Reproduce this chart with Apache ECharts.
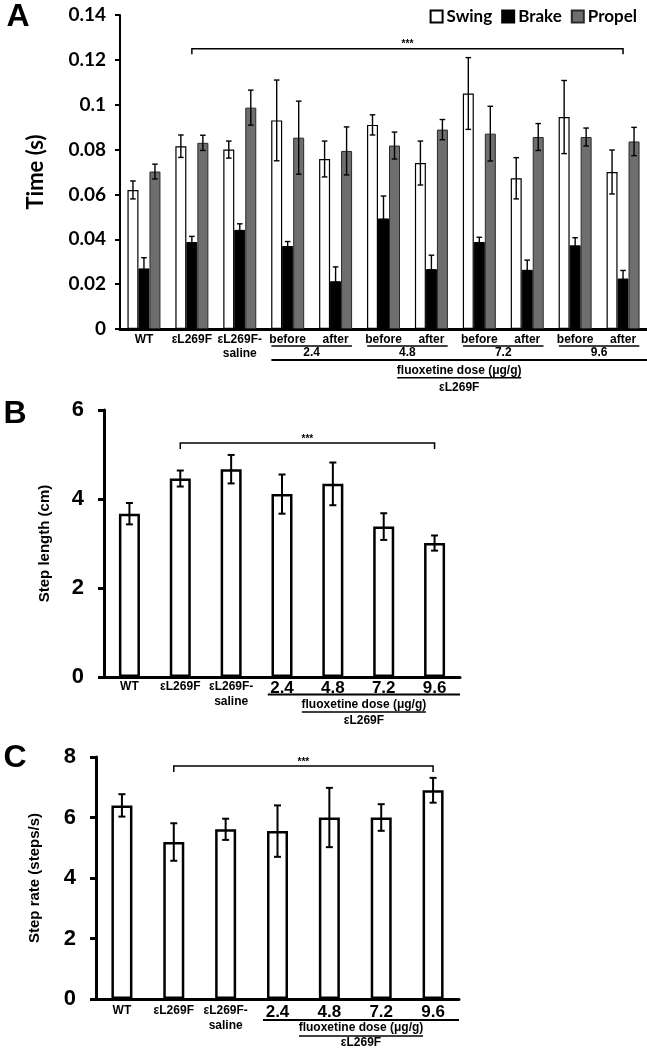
<!DOCTYPE html>
<html>
<head>
<meta charset="utf-8">
<script src="https://cdn.jsdelivr.net/npm/echarts@6/dist/echarts.min.js"></script>
<style>html,body{margin:0;padding:0;background:#fff;}#c{width:647px;height:1050px;}</style>
</head>
<body>
<div id="c"></div>
<script>
// ---------- DATA ----------
const catsA = ['WT','εL269F','εL269F-\nsaline','before','after','before','after','before','after','before','after'];
const doseLabels = ['2.4','4.8','7.2','9.6'];
const seriesNamesA = ['Swing','Brake','Propel'];
const swing     = [0.062, 0.0815, 0.080, 0.093, 0.0758, 0.091, 0.074, 0.105, 0.0672, 0.0945, 0.070];
const swingErr  = [0.004, 0.005, 0.0038, 0.018, 0.008, 0.0045, 0.0098, 0.016, 0.0092, 0.0163, 0.0098];
const brake     = [0.027, 0.0388, 0.0442, 0.037, 0.0213, 0.0493, 0.0267, 0.0388, 0.0264, 0.0373, 0.0225];
const brakeErr  = [0.0048, 0.0025, 0.0027, 0.002, 0.0064, 0.010, 0.0062, 0.0021, 0.0043, 0.0034, 0.0036];
const propel    = [0.0702, 0.083, 0.0987, 0.0853, 0.0794, 0.0818, 0.0889, 0.0871, 0.0856, 0.0856, 0.0836];
const propelErr = [0.0033, 0.0034, 0.0078, 0.0163, 0.0107, 0.006, 0.0045, 0.0122, 0.006, 0.004, 0.0063];

const catsBC = ['WT','εL269F','εL269F-\nsaline','2.4','4.8','7.2','9.6'];
const stepLength    = [3.67, 4.46, 4.67, 4.11, 4.34, 3.38, 3.01];
const stepLengthErr = [0.24, 0.18, 0.32, 0.44, 0.48, 0.30, 0.17];
const stepRate      = [6.40, 5.19, 5.61, 5.55, 6.00, 6.00, 6.90];
const stepRateErr   = [0.37, 0.62, 0.35, 0.85, 0.98, 0.44, 0.41];

const yTicksA = {min: 0, max: 0.14, interval: 0.02};
const yTicksB = {min: 0, max: 6, interval: 2};
const yTicksC = {min: 0, max: 8, interval: 2};

// significance brackets: [from category, to category, y value]
const bracketA = [[1, 10, 0.125]];
const bracketB = [[1, 6, 5.26]];
const bracketC = [[1, 6, 7.70]];

// ---------- STYLE HELPERS ----------
const ARIAL = '"Liberation Sans", Arial, sans-serif';
const LATO = 'Lato, "Open Sans", sans-serif';
const F12 = 'bold 12px ' + ARIAL;

function line(x1, y1, x2, y2, w) {
  return {type: 'line', shape: {x1, y1, x2, y2}, style: {stroke: '#000', lineWidth: w}};
}
function txt(t, x, y, font) {
  return {type: 'text', style: {text: t, x, y, align: 'center', verticalAlign: 'middle', font: font || F12, fill: '#000'}};
}

function errRender(offset, capHalf, lw) {
  return function (params, api) {
    const cat = api.value(0), v = api.value(1), e = api.value(2);
    const top = api.coord([cat, v + e]);
    const bot = api.coord([cat, v - e]);
    const x = top[0] + offset;
    return {type: 'group', children: [
      line(x, top[1], x, bot[1], lw),
      line(x - capHalf, top[1], x + capHalf, top[1], lw),
      line(x - capHalf, bot[1], x + capHalf, bot[1], lw)
    ]};
  };
}

function bracketRender(leg) {
  return function (params, api) {
    const p1 = api.coord([api.value(0), api.value(2)]);
    const p2 = api.coord([api.value(1), api.value(2)]);
    return {type: 'group', children: [
      {type: 'polyline', shape: {points: [[p1[0], p1[1] + leg], [p1[0], p1[1]], [p2[0], p2[1]], [p2[0], p2[1] + leg]]},
       style: {stroke: '#000', lineWidth: 1.5, fill: 'none'}},
      txt('***', (p1[0] + p2[0]) / 2, p1[1] - 4, 'bold 10px ' + ARIAL)
    ]};
  };
}

function annotA(params, api) {
  const y0 = api.coord([0, 0])[1];
  const band = api.size([1, 0])[0];
  const ch = [];
  for (let i = 0; i < doseLabels.length; i++) {
    const xa = api.coord([3 + 2 * i, 0])[0] - band * 0.34;
    const xb = api.coord([4 + 2 * i, 0])[0] + band * 0.34;
    ch.push(line(xa, y0 + 17, xb, y0 + 17, 1.5));
    ch.push(txt(doseLabels[i], (xa + xb) / 2, y0 + 24));
  }
  const xl = api.coord([3, 0])[0] - band * 0.34;
  const xr = api.coord([catsA.length - 1, 0])[0] + band * 0.5;
  ch.push(line(xl, y0 + 31, xr, y0 + 31, 2));
  const cx = (xl + xr) / 2;
  ch.push(txt('fluoxetine dose (μg/g)', cx, y0 + 41.5));
  ch.push(line(cx - 62, y0 + 48.7, cx + 62, y0 + 48.7, 1.5));
  ch.push(txt('εL269F', cx, y0 + 58.5));
  return {type: 'group', children: ch};
}

function annotBC(d) {
  return function (params, api) {
    const y0 = api.coord([0, 0])[1];
    const band = api.size([1, 0])[0];
    const xl = api.coord([3, 0])[0] - band * 0.28;
    const xr = api.coord([catsBC.length - 1, 0])[0] + band * 0.5;
    const cx = (xl + xr) / 2;
    return {type: 'group', children: [
      line(xl, y0 + d[0], xr, y0 + d[0], 2),
      txt('fluoxetine dose (μg/g)', cx, y0 + d[1]),
      line(cx - 62, y0 + d[2], cx + 62, y0 + d[2], 1.5),
      txt('εL269F', cx, y0 + d[3])
    ]};
  };
}

function labelFmt(v) {
  if (doseLabels.indexOf(v) >= 0) return '{d|' + v + '}';
  return v.split('\n').map(s => '{a|' + s + '}').join('\n');
}

function yAxisCommon(ticks, gridIndex, opts) {
  return Object.assign({
    type: 'value', gridIndex, min: ticks.min, max: ticks.max, interval: ticks.interval,
    splitLine: {show: false},
    nameLocation: 'middle', nameRotate: 90
  }, opts);
}

// ---------- OPTION ----------
const option = {
  animation: false,
  backgroundColor: '#fff',
  graphic: [
    txt('A', 18, 17, 'bold 32px ' + ARIAL),
    txt('B', 15, 414, 'bold 32px ' + ARIAL),
    txt('C', 15, 758, 'bold 32px ' + ARIAL)
  ],
  legend: {
    data: seriesNamesA, right: 10, top: 8, padding: 0, itemWidth: 12, itemHeight: 12, itemGap: 9,
    icon: 'rect', width: 260,
    textStyle: {fontFamily: LATO, fontWeight: 'bold', fontSize: 17, color: '#000', padding: [0, 0, 0, -1]}
  },
  grid: [
    {left: 120, top: 15, width: 527, height: 314},
    {left: 104, top: 410, width: 356, height: 267},
    {left: 96, top: 757, width: 363, height: 242}
  ],
  xAxis: [
    {type: 'category', gridIndex: 0, data: catsA,
     axisLine: {lineStyle: {color: '#000', width: 3}}, axisTick: {show: false},
     axisLabel: {interval: 0, margin: 4, formatter: labelFmt,
       rich: {a: {fontFamily: ARIAL, fontWeight: 'bold', fontSize: 12, lineHeight: 14, color: '#000'}}}},
    {type: 'category', gridIndex: 1, data: catsBC,
     axisLine: {lineStyle: {color: '#000', width: 3}}, axisTick: {show: false},
     axisLabel: {interval: 0, margin: 2, formatter: labelFmt,
       rich: {a: {fontFamily: ARIAL, fontWeight: 'bold', fontSize: 12, lineHeight: 15, color: '#000'},
              d: {fontFamily: ARIAL, fontWeight: 'bold', fontSize: 17, lineHeight: 18, color: '#000'}}}},
    {type: 'category', gridIndex: 2, data: catsBC,
     axisLine: {lineStyle: {color: '#000', width: 3}}, axisTick: {show: false},
     axisLabel: {interval: 0, margin: 4, formatter: labelFmt,
       rich: {a: {fontFamily: ARIAL, fontWeight: 'bold', fontSize: 12, lineHeight: 15, color: '#000'},
              d: {fontFamily: ARIAL, fontWeight: 'bold', fontSize: 17, lineHeight: 18, color: '#000'}}}}
  ],
  yAxis: [
    yAxisCommon(yTicksA, 0, {
      name: 'Time (s)', nameGap: 73,
      nameTextStyle: {fontFamily: LATO, fontWeight: 'bold', fontSize: 22, color: '#000'},
      axisLine: {show: true, lineStyle: {color: '#000', width: 2}},
      axisTick: {show: true, length: 5, lineStyle: {color: '#000', width: 2}},
      axisLabel: {margin: 14, fontFamily: LATO, fontWeight: 'bold', fontSize: 19, color: '#000'}
    }),
    yAxisCommon(yTicksB, 1, {
      name: 'Step length (cm)', nameGap: 52,
      nameTextStyle: {fontFamily: ARIAL, fontWeight: 'bold', fontSize: 15, color: '#000'},
      axisLine: {show: true, lineStyle: {color: '#000', width: 3}},
      axisTick: {show: true, length: 6, lineStyle: {color: '#000', width: 3}},
      axisLabel: {margin: 20, fontFamily: ARIAL, fontWeight: 'bold', fontSize: 22, color: '#000'}
    }),
    yAxisCommon(yTicksC, 2, {
      name: 'Step rate (steps/s)', nameGap: 54,
      nameTextStyle: {fontFamily: ARIAL, fontWeight: 'bold', fontSize: 15, color: '#000'},
      axisLine: {show: true, lineStyle: {color: '#000', width: 3}},
      axisTick: {show: true, length: 6, lineStyle: {color: '#000', width: 3}},
      axisLabel: {margin: 20, fontFamily: ARIAL, fontWeight: 'bold', fontSize: 22, color: '#000'}
    })
  ],
  series: [
    {name: 'Swing', type: 'bar', xAxisIndex: 0, yAxisIndex: 0, data: swing, barWidth: 11, barGap: '0%',
     itemStyle: {color: '#fff', borderColor: '#000', borderWidth: 1.2}},
    {name: 'Brake', type: 'bar', xAxisIndex: 0, yAxisIndex: 0, data: brake, barWidth: 11, barGap: '0%',
     itemStyle: {color: '#000', borderColor: '#000', borderWidth: 1}},
    {name: 'Propel', type: 'bar', xAxisIndex: 0, yAxisIndex: 0, data: propel, barWidth: 11, barGap: '0%',
     itemStyle: {color: '#6e6e6e', borderColor: '#2a2a2a', borderWidth: 1}},
    {type: 'custom', xAxisIndex: 0, yAxisIndex: 0, z: 5, silent: true, encode: {x: 0, y: 1},
     data: swing.map((v, i) => [i, v, swingErr[i]]), renderItem: errRender(-11, 2.8, 1.4)},
    {type: 'custom', xAxisIndex: 0, yAxisIndex: 0, z: 5, silent: true, encode: {x: 0, y: 1},
     data: brake.map((v, i) => [i, v, brakeErr[i]]), renderItem: errRender(0, 2.8, 1.4)},
    {type: 'custom', xAxisIndex: 0, yAxisIndex: 0, z: 5, silent: true, encode: {x: 0, y: 1},
     data: propel.map((v, i) => [i, v, propelErr[i]]), renderItem: errRender(11, 2.8, 1.4)},
    {type: 'custom', xAxisIndex: 0, yAxisIndex: 0, z: 5, silent: true, encode: {x: 0, y: 2},
     data: bracketA, renderItem: bracketRender(5.5)},
    {type: 'custom', xAxisIndex: 0, yAxisIndex: 0, z: 5, silent: true, encode: {x: 0},
     data: [[0, 0]], renderItem: annotA},

    {name: 'Step length', type: 'bar', xAxisIndex: 1, yAxisIndex: 1, data: stepLength, barWidth: 21,
     itemStyle: {color: '#fff', borderColor: '#000', borderWidth: 2.5}},
    {type: 'custom', xAxisIndex: 1, yAxisIndex: 1, z: 5, silent: true, encode: {x: 0, y: 1},
     data: stepLength.map((v, i) => [i, v, stepLengthErr[i]]), renderItem: errRender(0, 3.5, 2)},
    {type: 'custom', xAxisIndex: 1, yAxisIndex: 1, z: 5, silent: true, encode: {x: 0, y: 2},
     data: bracketB, renderItem: bracketRender(6)},
    {type: 'custom', xAxisIndex: 1, yAxisIndex: 1, z: 5, silent: true, encode: {x: 0},
     data: [[0, 0]], renderItem: annotBC([17.6, 27.3, 35, 43.3])},

    {name: 'Step rate', type: 'bar', xAxisIndex: 2, yAxisIndex: 2, data: stepRate, barWidth: 21,
     itemStyle: {color: '#fff', borderColor: '#000', borderWidth: 2.5}},
    {type: 'custom', xAxisIndex: 2, yAxisIndex: 2, z: 5, silent: true, encode: {x: 0, y: 1},
     data: stepRate.map((v, i) => [i, v, stepRateErr[i]]), renderItem: errRender(0, 3.5, 2)},
    {type: 'custom', xAxisIndex: 2, yAxisIndex: 2, z: 5, silent: true, encode: {x: 0, y: 2},
     data: bracketC, renderItem: bracketRender(6)},
    {type: 'custom', xAxisIndex: 2, yAxisIndex: 2, z: 5, silent: true, encode: {x: 0},
     data: [[0, 0]], renderItem: annotBC([21, 28.7, 37, 43.5])}
  ]
};

const chart = echarts.init(document.getElementById('c'), null, {renderer: 'canvas'});
chart.setOption(option);
</script>
</body>
</html>
